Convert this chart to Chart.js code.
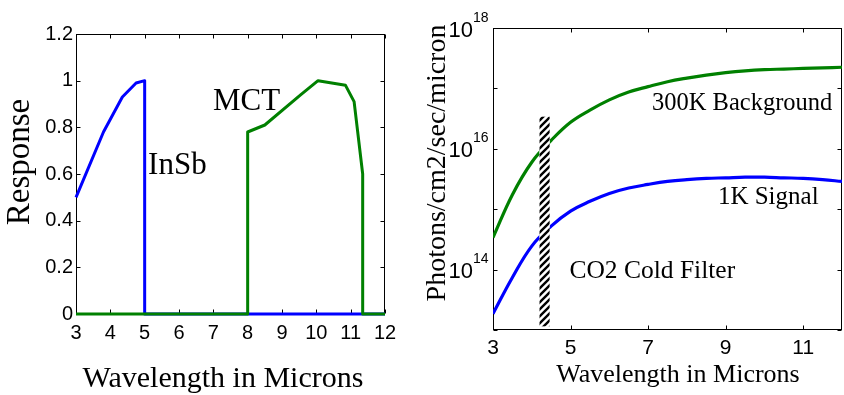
<!DOCTYPE html>
<html lang="en">
<head>
<meta charset="UTF-8">
<title>Detector response and photon flux</title>
<script src="https://cdn.jsdelivr.net/npm/chart.js"></script>
<style>
  body { margin: 0; background: #fff; }
  .panel { position: absolute; top: 0; width: 422px; height: 395px; }
  #left { left: 0; }
  #right { left: 422px; }
</style>
</head>
<body>
<div class="panel" id="left"><canvas id="responseChart" width="422" height="395"></canvas></div>
<div class="panel" id="right"><canvas id="fluxChart" width="422" height="395"></canvas></div>
<script>
// left panel - detector response curves
const insbWave = [3, 3.8, 4.35, 4.75, 5, 5, 12];
const insbResp = [0.5, 0.78, 0.93, 0.99, 1.0, 0, 0];
const mctWave = [3, 8, 8, 8.5, 9.55, 10.05, 10.85, 11.1, 11.35, 11.35, 12];
const mctResp = [0, 0, 0.78, 0.81, 0.94, 1.0, 0.98, 0.91, 0.6, 0, 0];
const respXTicks = [3, 4, 5, 6, 7, 8, 9, 10, 11, 12];
const respYTicks = [0, 0.2, 0.4, 0.6, 0.8, 1, 1.2];

// right panel - photon flux (photons/cm2/sec/micron)
const fluxWave = [3, 3.5, 4, 4.5, 5, 5.5, 6, 6.5, 7, 7.5, 8, 8.5, 9, 9.5, 10, 10.5, 11, 11.5, 12];
const bgFlux = [3.4e14, 1.74e15, 6.0e15, 1.38e16, 2.75e16, 4.37e16, 6.46e16, 8.7e16, 1.07e17, 1.29e17,
                1.48e17, 1.66e17, 1.82e17, 1.95e17, 2.04e17, 2.09e17, 2.14e17, 2.19e17, 2.24e17];
const sigFlux = [1.86e13, 7.4e13, 2.45e14, 5.25e14, 9.3e14, 1.35e15, 1.82e15, 2.24e15, 2.57e15, 2.88e15,
                 3.09e15, 3.24e15, 3.31e15, 3.39e15, 3.39e15, 3.31e15, 3.24e15, 3.09e15, 2.88e15];
const fluxXTicks = [3, 5, 7, 9, 11];
const fluxYExps = [13, 14, 15, 16, 17, 18];
const fluxYLabelExps = [14, 16, 18];
const filterWave = [4.2, 4.46];
const filterFlux = [1.15e13, 3.4e16];

const SANS = '"Liberation Sans", Arial, sans-serif';
const SERIF = '"Liberation Serif", "Times New Roman", serif';

function pts(xs, ys) { return xs.map((x, i) => ({x: x, y: ys[i]})); }

function drawText(ctx, text, x, y, size, opts) {
  opts = opts || {};
  ctx.save();
  ctx.font = size + 'px ' + (opts.family || SERIF);
  ctx.fillStyle = '#000';
  ctx.textAlign = opts.align || 'left';
  ctx.textBaseline = 'alphabetic';
  ctx.translate(x, y);
  if (opts.rotate) ctx.rotate(opts.rotate);
  ctx.fillText(text, 0, 0);
  ctx.restore();
}

// box round the axes with inward tick marks on all four sides
function drawFrame(chart) {
  const {ctx, chartArea: a} = chart;
  const x = chart.scales.x, y = chart.scales.y;
  const L = Math.round(a.left) + 0.5, R = Math.round(a.right) - 0.5;
  const T = Math.round(a.top) + 0.5, B = Math.round(a.bottom) - 0.5;
  ctx.save();
  ctx.strokeStyle = '#000';
  ctx.lineWidth = 1;
  ctx.strokeRect(L, T, R - L, B - T);
  ctx.beginPath();
  x.ticks.forEach(t => {
    const p = Math.round(x.getPixelForValue(t.value)) + 0.5;
    ctx.moveTo(p, B); ctx.lineTo(p, B - 4);
    ctx.moveTo(p, T); ctx.lineTo(p, T + 4);
  });
  y.ticks.forEach(t => {
    const p = Math.round(y.getPixelForValue(t.value)) + 0.5;
    ctx.moveTo(L, p); ctx.lineTo(L + 4, p);
    ctx.moveTo(R, p); ctx.lineTo(R - 4, p);
  });
  ctx.stroke();
  ctx.restore();
}

function hatchPattern(ctx) {
  const c = document.createElement('canvas');
  c.width = 7; c.height = 7;
  const g = c.getContext('2d');
  g.fillStyle = '#fff';
  g.fillRect(0, 0, 7, 7);
  g.strokeStyle = '#000';
  g.lineWidth = 2.4;
  g.beginPath();
  g.moveTo(-1, 8); g.lineTo(8, -1);
  g.moveTo(-4.5, 4.5); g.lineTo(4.5, -4.5);
  g.moveTo(2.5, 11.5); g.lineTo(11.5, 2.5);
  g.stroke();
  return ctx.createPattern(c, 'repeat');
}

// ---------- left chart ----------
new Chart(document.getElementById('responseChart'), {
  type: 'line',
  data: {
    datasets: [
      {label: 'InSb', data: pts(insbWave, insbResp), borderColor: '#0000ff', order: 2},
      {label: 'MCT', data: pts(mctWave, mctResp), borderColor: '#008000', order: 1}
    ]
  },
  options: {
    responsive: false,
    animation: false,
    events: [],
    layout: {padding: {left: 0, top: 34, right: 37, bottom: 0}},
    elements: {
      line: {borderWidth: 3, tension: 0, borderJoinStyle: 'round', fill: false},
      point: {radius: 0}
    },
    datasets: {line: {clip: 4}},
    plugins: {legend: {display: false}, tooltip: {enabled: false}},
    scales: {
      x: {
        type: 'linear', min: 3, max: 12,
        grid: {display: false, drawTicks: false},
        border: {display: false},
        afterBuildTicks: s => { s.ticks = respXTicks.map(v => ({value: v})); },
        afterFit: s => { s.height = 81; },
        ticks: {padding: 7, color: '#000', font: {family: SANS, size: 20}}
      },
      y: {
        type: 'linear', min: 0, max: 1.2,
        grid: {display: false, drawTicks: false},
        border: {display: false},
        afterBuildTicks: s => { s.ticks = respYTicks.map(v => ({value: v})); },
        afterFit: s => { s.width = 76; },
        ticks: {padding: 3, color: '#000', font: {family: SANS, size: 20}, callback: v => String(v)}
      }
    }
  },
  plugins: [{
    id: 'responseDecor',
    beforeDatasetsDraw(chart) { drawFrame(chart); },
    afterDraw(chart) {
      const {ctx, scales: {x, y}} = chart;
      drawText(ctx, 'InSb', x.getPixelForValue(5.1), y.getPixelForValue(0.6), 31);
      drawText(ctx, 'MCT', x.getPixelForValue(6.99), y.getPixelForValue(0.874), 31);
      drawText(ctx, 'Response', 29, 162, 33, {align: 'center', rotate: -Math.PI / 2});
      drawText(ctx, 'Wavelength in Microns', 223, 387, 30, {align: 'center'});
    }
  }]
});

// ---------- right chart ----------
new Chart(document.getElementById('fluxChart'), {
  type: 'line',
  data: {
    datasets: [
      {label: '300K Background', data: pts(fluxWave, bgFlux), borderColor: '#008000'},
      {label: '1K Signal', data: pts(fluxWave, sigFlux), borderColor: '#0000ff'}
    ]
  },
  options: {
    responsive: false,
    animation: false,
    events: [],
    layout: {padding: {left: 0, top: 28, right: 2, bottom: 0}},
    elements: {
      line: {borderWidth: 3.2, tension: 0.4, fill: false},
      point: {radius: 0}
    },
    plugins: {legend: {display: false}, tooltip: {enabled: false}},
    scales: {
      x: {
        type: 'linear', min: 3, max: 12,
        grid: {display: false, drawTicks: false},
        border: {display: false},
        afterBuildTicks: s => { s.ticks = fluxXTicks.map(v => ({value: v})); },
        afterFit: s => { s.height = 65; },
        ticks: {padding: 6, color: '#000', font: {family: SANS, size: 21}}
      },
      y: {
        type: 'logarithmic', min: 1e13, max: 1e18,
        grid: {display: false, drawTicks: false},
        border: {display: false},
        afterBuildTicks: s => { s.ticks = fluxYExps.map(e => ({value: Math.pow(10, e)})); },
        afterFit: s => { s.width = 71; },
        ticks: {display: false}
      }
    }
  },
  plugins: [{
    id: 'fluxDecor',
    beforeDatasetsDraw(chart) { drawFrame(chart); },
    afterDatasetsDraw(chart) {
      // CO2 cold filter band, hatched over the curves
      const {ctx, scales: {x, y}} = chart;
      const x0 = x.getPixelForValue(filterWave[0]), x1 = x.getPixelForValue(filterWave[1]);
      const y0 = y.getPixelForValue(filterFlux[1]), y1 = y.getPixelForValue(filterFlux[0]);
      ctx.save();
      ctx.fillStyle = '#fff';
      ctx.fillRect(x0, y0, x1 - x0, y1 - y0);
      ctx.fillStyle = hatchPattern(ctx);
      ctx.fillRect(x0, y0, x1 - x0, y1 - y0);
      ctx.restore();
    },
    afterDraw(chart) {
      const {ctx, chartArea: a, scales: {x, y}} = chart;
      fluxYLabelExps.forEach(e => {
        const p = y.getPixelForValue(Math.pow(10, e));
        drawText(ctx, '10', a.left - 20, p + 8.5, 22, {family: SANS, align: 'right'});
        drawText(ctx, String(e), a.left - 20, p - 6.5, 14, {family: SANS});
      });
      drawText(ctx, '300K Background', x.getPixelForValue(7.1), y.getPixelForValue(4.37e16), 24.5);
      drawText(ctx, '1K Signal', x.getPixelForValue(8.8), y.getPixelForValue(1.2e15), 25);
      drawText(ctx, 'CO2 Cold Filter', x.getPixelForValue(4.97), y.getPixelForValue(7.3e13), 25.5);
      drawText(ctx, 'Photons/cm2/sec/micron', 23, 163, 28, {align: 'center', rotate: -Math.PI / 2});
      drawText(ctx, 'Wavelength in Microns', 256, 382, 26, {align: 'center'});
    }
  }]
});
</script>
</body>
</html>
